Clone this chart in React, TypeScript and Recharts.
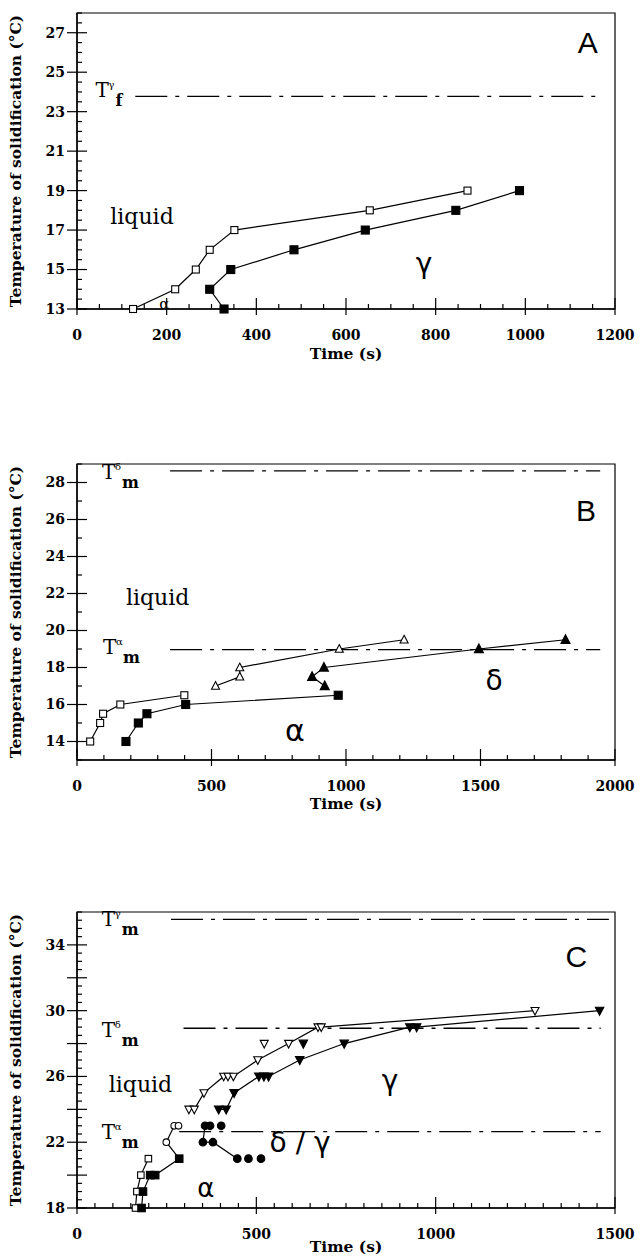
import React from 'react';
import {
  ScatterChart,
  Scatter,
  XAxis,
  YAxis,
  ReferenceLine,
  ReferenceDot,
  ReferenceArea,
} from 'recharts';

interface Pt {
  t: number;
  T: number;
}

// Panel A
const aOpenSquares: Pt[] = [
  { t: 125, T: 13 }, { t: 219, T: 14 }, { t: 265, T: 15 }, { t: 296, T: 16 },
  { t: 351, T: 17 }, { t: 653, T: 18 }, { t: 871, T: 19 },
];
const aFilledSquares: Pt[] = [
  { t: 328, T: 13 }, { t: 296, T: 14 }, { t: 343, T: 15 }, { t: 484, T: 16 },
  { t: 643, T: 17 }, { t: 845, T: 18 }, { t: 987, T: 19 },
];
const aXLabels = [0, 200, 400, 600, 800, 1000, 1200];
const aYLabels = [13, 15, 17, 19, 21, 23, 25, 27];
const aTfGamma = 23.77;

// Panel B
const bOpenSquares: Pt[] = [
  { t: 49, T: 14 }, { t: 86, T: 15 }, { t: 97, T: 15.5 }, { t: 161, T: 16 }, { t: 399, T: 16.5 },
];
const bFilledSquares: Pt[] = [
  { t: 182, T: 14 }, { t: 228, T: 15 }, { t: 260, T: 15.5 }, { t: 404, T: 16 }, { t: 971, T: 16.5 },
];
const bOpenTriangles: Pt[] = [
  { t: 515, T: 17 }, { t: 605, T: 17.5 }, { t: 605, T: 18 }, { t: 975, T: 19 }, { t: 1216, T: 19.5 },
];
const bFilledTriangles: Pt[] = [
  { t: 921, T: 17 }, { t: 874, T: 17.5 }, { t: 918, T: 18 }, { t: 1494, T: 19 }, { t: 1816, T: 19.5 },
];
const bXLabels = [0, 500, 1000, 1500, 2000];
const bYLabels = [14, 16, 18, 20, 22, 24, 26, 28];
const bTmDelta = 28.63;
const bTmAlpha = 18.97;

// Panel C
const cOpenSquares: Pt[] = [
  { t: 163, T: 18 }, { t: 167, T: 19 }, { t: 178, T: 20 }, { t: 199, T: 21 },
];
const cFilledSquares: Pt[] = [
  { t: 180, T: 18 }, { t: 184, T: 19 }, { t: 204, T: 20 }, { t: 218, T: 20 }, { t: 285, T: 21 },
];
const cOpenCircles: Pt[] = [{ t: 249, T: 22 }, { t: 271, T: 23 }, { t: 283, T: 23 }];
const cFilledCircles: Pt[] = [{ t: 357, T: 23 }, { t: 351, T: 22 }, { t: 379, T: 22 }, { t: 447, T: 21 }];
const cFilledCirclesLoose: Pt[] = [{ t: 371, T: 23 }, { t: 402, T: 23 }, { t: 478, T: 21 }, { t: 513, T: 21 }];
const cOpenDown: Pt[] = [
  { t: 312, T: 24 }, { t: 327, T: 24 }, { t: 354, T: 25 }, { t: 409, T: 26 }, { t: 421, T: 26 },
  { t: 436, T: 26 }, { t: 504, T: 27 }, { t: 590, T: 28 }, { t: 672, T: 29 }, { t: 681, T: 29 },
  { t: 1277, T: 30 },
];
const cOpenDownLoose: Pt[] = [{ t: 522, T: 28 }];
const cFilledDown: Pt[] = [
  { t: 395, T: 24 }, { t: 416, T: 24 }, { t: 438, T: 25 }, { t: 507, T: 26 }, { t: 521, T: 26 },
  { t: 534, T: 26 }, { t: 621, T: 27 }, { t: 745, T: 28 }, { t: 928, T: 29 }, { t: 947, T: 29 },
  { t: 1457, T: 30 },
];
const cFilledDownLoose: Pt[] = [{ t: 631, T: 28 }];
const cXLabels = [0, 500, 1000, 1500];
const cYLabels = [18, 22, 26, 30, 34];
const cYCross = [18, 20, 22, 24, 26, 28, 30, 32, 34];
const cTmGamma = 35.55;
const cTmDelta = 28.93;
const cTmAlpha = 22.64;

const SERIF = '"DejaVu Serif", serif';
const SANS = '"Liberation Sans", Arial, sans-serif';
const GREEK = '"DejaVu Sans", sans-serif';
const LINE = { stroke: '#000', strokeWidth: 1.2 };
const DASH = '32 8 4 8';
const Y_TITLE = 'Temperature of solidification (°C)';

const steps = (from: number, to: number, step: number) => {
  const out: number[] = [];
  for (let v = from; v <= to + 1e-9; v += step) out.push(Math.round(v * 100) / 100);
  return out;
};

const square = (filled: boolean, s: number) => (p: any) => (
  <rect x={p.cx - s / 2} y={p.cy - s / 2} width={s} height={s}
    fill={filled ? '#000' : '#fff'} stroke="#000" strokeWidth={1.1} />
);
const triUp = (filled: boolean, s: number) => (p: any) => (
  <path d={`M${p.cx},${p.cy - s * 0.55}L${p.cx + s / 2},${p.cy + s * 0.4}L${p.cx - s / 2},${p.cy + s * 0.4}Z`}
    fill={filled ? '#000' : '#fff'} stroke="#000" strokeWidth={1.1} />
);
const triDown = (filled: boolean, s: number) => (p: any) => (
  <path d={`M${p.cx},${p.cy + s * 0.55}L${p.cx + s / 2},${p.cy - s * 0.4}L${p.cx - s / 2},${p.cy - s * 0.4}Z`}
    fill={filled ? '#000' : '#fff'} stroke="#000" strokeWidth={1.1} />
);
const circle = (filled: boolean, r: number) => (p: any) => (
  <circle cx={p.cx} cy={p.cy} r={r} fill={filled ? '#000' : '#fff'} stroke="#000" strokeWidth={1.1} />
);
const noMark = () => <g />;

const xTick = (labels: number[]) => (props: any) => {
  const { x, y, payload } = props;
  const v = payload.value;
  const major = labels.includes(v);
  return (
    <g>
      <line x1={x} x2={x} y1={y - (major ? 11 : 5)} y2={major ? y + 6 : y} stroke="#000" strokeWidth={1.2} />
      {major && (
        <text x={x} y={y + 26} dy="0.35em" textAnchor="middle" fontFamily={SERIF} fontWeight="bold" fontSize={14}>
          {v}
        </text>
      )}
    </g>
  );
};

const yTick = (labels: number[], cross: number[]) => (props: any) => {
  const { x, y, payload } = props;
  const v = payload.value;
  const long = cross.includes(v);
  return (
    <g>
      <line x1={long ? x - 10 : x} x2={x + (long ? 10 : 5)} y1={y} y2={y} stroke="#000" strokeWidth={1.2} />
      {labels.includes(v) && (
        <text x={x - 12} y={y} dy="0.35em" textAnchor="end" fontFamily={SERIF} fontWeight="bold" fontSize={14}>
          {v}
        </text>
      )}
    </g>
  );
};

function YTitle(props: any) {
  const vb = props.viewBox;
  const cx = vb.x + 16;
  const cy = vb.y + vb.height / 2;
  return (
    <text x={cx} y={cy} dy="0.35em" textAnchor="middle" transform={`rotate(-90 ${cx} ${cy})`}
      fontFamily={SERIF} fontWeight="bold" fontSize={15.5}>
      {Y_TITLE}
    </text>
  );
}

function XTitle(props: any) {
  const vb = props.viewBox;
  return (
    <text x={vb.x + vb.width / 2} y={vb.y + props.offsetY} dy="0.35em" textAnchor="middle"
      fontFamily={SERIF} fontWeight="bold" fontSize={15.5}>
      Time (s)
    </text>
  );
}

const note = (text: string, size: number, family: string, weight = 'normal') => (p: any) => (
  <text x={p.cx} y={p.cy} dy="0.35em" textAnchor="middle" fontSize={size} fontFamily={family} fontWeight={weight}>
    {text}
  </text>
);

const tSymbol = (sup: string, sub: string) => (p: any) => (
  <g fontFamily={SERIF} fill="#000">
    <text x={p.cx} y={p.cy} fontSize={20}>T</text>
    <text x={p.cx + 13} y={p.cy - 9} fontSize={10}>{sup}</text>
    <text x={p.cx + 20} y={p.cy + 9} fontSize={16} fontWeight="bold">{sub}</text>
  </g>
);

const MARGIN = { top: 13, right: 25, bottom: 0, left: 0 };
const AXIS_LINE = { stroke: '#000', strokeWidth: 1.4 };

function PanelA() {
  return (
    <ScatterChart width={640} height={368} margin={MARGIN}>
      <XAxis type="number" dataKey="t" domain={[0, 1200]} ticks={steps(0, 1200, 50)} interval={0}
        tickSize={0} tickMargin={0} tickLine={false} tick={xTick(aXLabels)} height={59}
        axisLine={AXIS_LINE} label={<XTitle offsetY={45} />} />
      <YAxis type="number" dataKey="T" domain={[13, 28]} ticks={steps(13, 28, 0.5)} interval={0}
        tickSize={0} tickMargin={0} tickLine={false} tick={yTick(aYLabels, aYLabels)} width={77}
        axisLine={AXIS_LINE} label={<YTitle />} />
      <ReferenceArea x1={0} x2={1200} y1={13} y2={28} fill="none" stroke="#000" strokeWidth={1.2} />
      <ReferenceLine segment={[{ x: 130, y: aTfGamma }, { x: 1170, y: aTfGamma }]}
        stroke="#000" strokeWidth={1.3} strokeDasharray={DASH} />
      <Scatter data={aOpenSquares} line={LINE} shape={square(false, 7)} isAnimationActive={false} />
      <Scatter data={aFilledSquares} line={LINE} shape={square(true, 8)} isAnimationActive={false} />
      <ReferenceDot x={1139} y={26.5} r={0} shape={note('A', 30, SANS)} />
      <ReferenceDot x={41} y={23.73} r={0} shape={tSymbol('γ', 'f')} />
      <ReferenceDot x={145} y={17.7} r={0} shape={note('liquid', 22, SERIF)} />
      <ReferenceDot x={195} y={13.25} r={0} shape={note('α', 15, SERIF)} />
      <ReferenceDot x={774} y={15.3} r={0} shape={note('γ', 28, GREEK)} />
    </ScatterChart>
  );
}

function PanelB() {
  return (
    <ScatterChart width={640} height={368} margin={MARGIN}>
      <XAxis type="number" dataKey="t" domain={[0, 2000]} ticks={steps(0, 2000, 100)} interval={0}
        tickSize={0} tickMargin={0} tickLine={false} tick={xTick(bXLabels)} height={59}
        axisLine={AXIS_LINE} label={<XTitle offsetY={44} />} />
      <YAxis type="number" dataKey="T" domain={[13, 29]} ticks={steps(13, 29, 1)} interval={0}
        tickSize={0} tickMargin={0} tickLine={false} tick={yTick(bYLabels, bYLabels)} width={77}
        axisLine={AXIS_LINE} label={<YTitle />} />
      <ReferenceArea x1={0} x2={2000} y1={13} y2={29} fill="none" stroke="#000" strokeWidth={1.2} />
      <ReferenceLine segment={[{ x: 346, y: bTmDelta }, { x: 1945, y: bTmDelta }]}
        stroke="#000" strokeWidth={1.3} strokeDasharray={DASH} />
      <ReferenceLine segment={[{ x: 346, y: bTmAlpha }, { x: 1945, y: bTmAlpha }]}
        stroke="#000" strokeWidth={1.3} strokeDasharray={DASH} />
      <Scatter data={bOpenSquares} line={LINE} shape={square(false, 7)} isAnimationActive={false} />
      <Scatter data={bFilledSquares} line={LINE} shape={square(true, 8)} isAnimationActive={false} />
      <Scatter data={bOpenTriangles} line={LINE} shape={triUp(false, 8)} isAnimationActive={false} />
      <Scatter data={bFilledTriangles} line={LINE} shape={triUp(true, 9)} isAnimationActive={false} />
      <ReferenceDot x={1892} y={26.5} r={0} shape={note('B', 30, SANS)} />
      <ReferenceDot x={93} y={28.18} r={0} shape={tSymbol('δ', 'm')} />
      <ReferenceDot x={97} y={18.75} r={0} shape={tSymbol('α', 'm')} />
      <ReferenceDot x={300} y={21.8} r={0} shape={note('liquid', 22, SERIF)} />
      <ReferenceDot x={1550} y={17.3} r={0} shape={note('δ', 28, GREEK)} />
      <ReferenceDot x={810} y={14.6} r={0} shape={note('α', 30, GREEK)} />
    </ScatterChart>
  );
}

function PanelC() {
  return (
    <ScatterChart width={640} height={359} margin={MARGIN}>
      <XAxis type="number" dataKey="t" domain={[0, 1500]} ticks={steps(0, 1500, 50)} interval={0}
        tickSize={0} tickMargin={0} tickLine={false} tick={xTick(cXLabels)} height={50}
        axisLine={AXIS_LINE} label={<XTitle offsetY={39} />} />
      <YAxis type="number" dataKey="T" domain={[18, 36]} ticks={steps(18, 36, 0.5)} interval={0}
        tickSize={0} tickMargin={0} tickLine={false} tick={yTick(cYLabels, cYCross)} width={77}
        axisLine={AXIS_LINE} label={<YTitle />} />
      <ReferenceArea x1={0} x2={1500} y1={18} y2={36} fill="none" stroke="#000" strokeWidth={1.2} />
      <ReferenceLine segment={[{ x: 262, y: cTmGamma }, { x: 1483, y: cTmGamma }]}
        stroke="#000" strokeWidth={1.3} strokeDasharray={DASH} />
      <ReferenceLine segment={[{ x: 297, y: cTmDelta }, { x: 1460, y: cTmDelta }]}
        stroke="#000" strokeWidth={1.3} strokeDasharray={DASH} />
      <ReferenceLine segment={[{ x: 285, y: cTmAlpha }, { x: 1460, y: cTmAlpha }]}
        stroke="#000" strokeWidth={1.3} strokeDasharray={DASH} />
      <Scatter data={cOpenSquares} line={LINE} shape={square(false, 6.5)} isAnimationActive={false} />
      <Scatter data={cFilledSquares} line={LINE} shape={square(true, 7.5)} isAnimationActive={false} />
      <Scatter data={[cFilledSquares[cFilledSquares.length - 1], ...cOpenCircles]} line={LINE}
        shape={noMark} isAnimationActive={false} />
      <Scatter data={cOpenCircles} shape={circle(false, 3.3)} isAnimationActive={false} />
      <Scatter data={cFilledCircles} line={LINE} shape={circle(true, 3.8)} isAnimationActive={false} />
      <Scatter data={cFilledCirclesLoose} shape={circle(true, 3.8)} isAnimationActive={false} />
      <Scatter data={cOpenDown} line={LINE} shape={triDown(false, 8)} isAnimationActive={false} />
      <Scatter data={cOpenDownLoose} shape={triDown(false, 8)} isAnimationActive={false} />
      <Scatter data={cFilledDown} line={LINE} shape={triDown(true, 8.5)} isAnimationActive={false} />
      <Scatter data={cFilledDownLoose} shape={triDown(true, 8.5)} isAnimationActive={false} />
      <ReferenceDot x={1392} y={33.3} r={0} shape={note('C', 30, SANS)} />
      <ReferenceDot x={69} y={35.15} r={0} shape={tSymbol('γ', 'm')} />
      <ReferenceDot x={69} y={28.4} r={0} shape={tSymbol('δ', 'm')} />
      <ReferenceDot x={69} y={22.2} r={0} shape={tSymbol('α', 'm')} />
      <ReferenceDot x={177} y={25.5} r={0} shape={note('liquid', 22, SERIF)} />
      <ReferenceDot x={873} y={25.8} r={0} shape={note('γ', 28, GREEK)} />
      <ReferenceDot x={622} y={22.0} r={0} shape={note('δ / γ', 28, GREEK)} />
      <ReferenceDot x={359} y={19.2} r={0} shape={note('α', 26, GREEK)} />
    </ScatterChart>
  );
}

export default function App() {
  return (
    <div style={{ position: 'absolute', left: 0, top: 0, width: 640, height: 1258, overflow: 'hidden', background: '#fff' }}>
      <div style={{ position: 'absolute', left: 0, top: 0 }}>
        <PanelA />
      </div>
      <div style={{ position: 'absolute', left: 0, top: 451 }}>
        <PanelB />
      </div>
      <div style={{ position: 'absolute', left: 0, top: 899 }}>
        <PanelC />
      </div>
    </div>
  );
}
